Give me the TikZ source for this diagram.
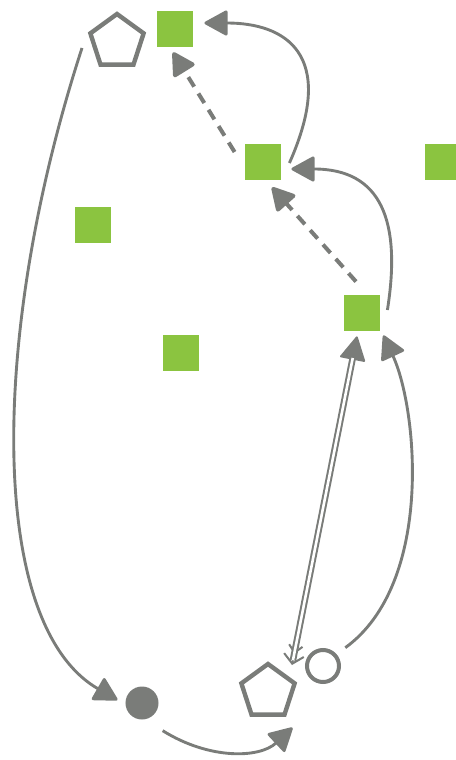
\documentclass[tikz,border=0pt]{standalone}
\usetikzlibrary{arrows.meta,shapes.geometric}
\definecolor{linegray}{RGB}{122,124,121}
\definecolor{leafgreen}{RGB}{139,196,64}
\tikzset{
  sq/.style={fill=leafgreen,inner sep=0pt,outer sep=0pt,minimum size=0.92cm},
  pent/.style={regular polygon,regular polygon sides=5,draw=linegray,line width=0.11cm,inner sep=0pt,outer sep=0pt,minimum size=1.4cm},
  ring/.style={circle,draw=linegray,line width=0.1cm,inner sep=0pt,outer sep=0pt,minimum size=0.8cm},
  dot/.style={circle,fill=linegray,inner sep=0pt,outer sep=0pt,minimum size=0.825cm},
  arc/.style={color=linegray,line width=0.072cm,-{Triangle[length=0.62cm,width=0.66cm,round]}},
  dashedge/.style={arc,line width=0.1cm,dash pattern=on 0.28cm off 0.2cm},
  dbl/.style={color=linegray,line width=0.05cm,
    {Straight Barb[length=0.22cm,width=0.5cm]Straight Barb[length=0.18cm,width=0.34cm]}-{Triangle[length=0.62cm,width=0.66cm,round]},
    postaction={draw=linegray,double=white,double distance=0.065cm,shorten >=0.55cm,shorten <=0.12cm,-}}
}
\begin{document}
\begin{tikzpicture}[x=0.025cm,y=-0.025cm]
\useasboundingbox (0,0) rectangle (455,760);

\node[pent] (P) at (117,42) {};
\node[sq] (A) at (175,29) {};
\node[sq] (B) at (263,162) {};
\node[sq] (C) at (443,162) {};
\node[sq] (D) at (93,225) {};
\node[sq] (E) at (362,313) {};
\node[sq] (F) at (181,353) {};
\node[dot] (K) at (142,703) {};
\node[pent] (Q) at (268,692) {};
\node[ring] (O) at (323,666) {};

% upper chain
\draw[arc] ([shift={(8,1)}]B.east) to[out=66,in=0,out distance=3cm,in distance=2cm] ([shift={(11,-6)}]A.east);
\draw[dashedge] ([shift={(-10,-10)}]B.west) -- ([shift={(-2,5)}]A.south);
\draw[arc] ([shift={(7,-3)}]E.east) to[out=81,in=0,out distance=2.25cm,in distance=2.25cm] ([shift={(10,7)}]B.east);
\draw[dashedge] ([shift={(-6,-13)}]E.north) -- ([shift={(9,7)}]B.south);

% lower part
\draw[dbl] ([shift={(-15,-1)}]O.west) -- ([shift={(-5,5)}]E.south);
\draw[arc] ([shift={(11,-7)}]O.north east) to[out=36,in=-65,out distance=2.75cm,in distance=2cm] ([shift={(3,4)}]E.south east);
\draw[arc] ([shift={(-35,6)}]P.center) to[out=-108,in=150,out distance=7.5cm,in distance=3.75cm] ([shift={(-8,-3)}]K.west);
\draw[arc] ([shift={(9,16)}]K.south east) to[out=-32,in=223,out distance=1.375cm,in distance=1.125cm] ([shift={(8,13)}]Q.corner 4);

\end{tikzpicture}
\end{document}
